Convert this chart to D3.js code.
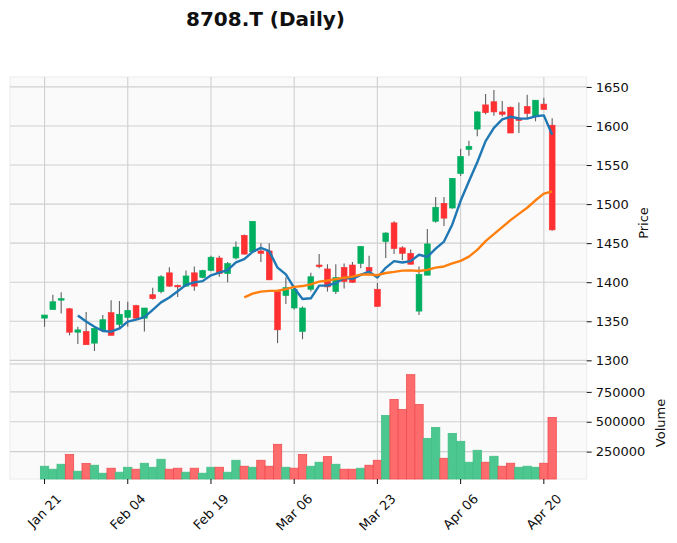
<!DOCTYPE html>
<html>
<head>
<meta charset="utf-8">
<script src="https://cdn.jsdelivr.net/npm/d3@7"></script>
<style>
body { margin: 0; background: #fff; }
text { font-family: "DejaVu Sans", sans-serif; fill: #101010; }
</style>
</head>
<body>
<script>
// trading days (2020), ticker 8708.T
var dates = ['2020-01-21','2020-01-22','2020-01-23','2020-01-24','2020-01-27','2020-01-28','2020-01-29','2020-01-30','2020-01-31','2020-02-03',
  '2020-02-04','2020-02-05','2020-02-06','2020-02-07','2020-02-10','2020-02-12','2020-02-13','2020-02-14','2020-02-17','2020-02-18',
  '2020-02-19','2020-02-20','2020-02-21','2020-02-25','2020-02-26','2020-02-27','2020-02-28','2020-03-02','2020-03-03','2020-03-04',
  '2020-03-06','2020-03-09','2020-03-10','2020-03-11','2020-03-12','2020-03-13','2020-03-16','2020-03-17','2020-03-18','2020-03-19',
  '2020-03-23','2020-03-24','2020-03-25','2020-03-26','2020-03-27','2020-03-30','2020-03-31','2020-04-01','2020-04-02','2020-04-03',
  '2020-04-06','2020-04-07','2020-04-08','2020-04-09','2020-04-10','2020-04-13','2020-04-14','2020-04-15','2020-04-16','2020-04-17',
  '2020-04-20','2020-04-21'];

var opens = [1354,1365,1377,1366,1336,1337,1322,1339,1361,1346,
  1355,1370,1354,1384,1388,1412,1396,1395,1412,1406,
  1415,1431,1411,1431,1460,1439,1440,1440,1388,1383,
  1367,1337,1391,1422,1417,1388,1419,1422,1424,1419,
  1391,1452,1476,1444,1437,1363,1409,1478,1501,1495,
  1539,1570,1596,1627,1631,1618,1624,1610,1625,1612,
  1628,1601];
var highs = [1358,1384,1387,1367,1343,1362,1342,1358,1377,1376,
  1375,1371,1367,1393,1409,1419,1397,1415,1420,1416,
  1434,1434,1426,1452,1461,1478,1450,1450,1389,1406,
  1393,1369,1412,1436,1423,1423,1424,1426,1446,1434,
  1399,1464,1478,1446,1442,1420,1468,1509,1509,1533,
  1571,1581,1619,1641,1646,1632,1625,1630,1640,1633,
  1636,1610];
var lows = [1343,1365,1360,1332,1321,1320,1312,1337,1332,1342,
  1343,1352,1337,1378,1386,1394,1381,1394,1389,1405,
  1414,1407,1400,1429,1435,1438,1426,1403,1322,1372,
  1365,1327,1388,1418,1388,1385,1392,1399,1418,1411,
  1369,1431,1436,1428,1423,1358,1409,1476,1472,1494,
  1536,1562,1587,1615,1613,1612,1591,1591,1610,1606,
  1621,1466];
var closes = [1358,1375,1379,1336,1339,1320,1341,1352,1332,1359,
  1364,1354,1367,1379,1407,1395,1394,1408,1395,1415,
  1432,1411,1424,1445,1436,1478,1437,1403,1339,1393,
  1391,1367,1407,1420,1394,1406,1401,1400,1446,1414,
  1369,1463,1443,1437,1423,1410,1449,1496,1482,1533,
  1561,1574,1618,1617,1618,1615,1591,1607,1616,1633,
  1621,1467];
var volumes = [127500,102500,144000,225000,86000,150000,136000,69000,111000,77500,
  119000,102500,152500,119000,186000,102500,111000,77500,111000,69000,
  119000,119000,77500,177500,127500,119000,177500,127500,311000,119000,
  111000,225000,127500,161000,208000,144000,102500,102500,111000,136000,
  177500,552500,686000,602500,894000,644000,361000,452500,194000,402500,
  336000,161000,261000,161000,211000,127500,152500,119000,127500,119000,
  152500,536000];

var mavPeriods = [5, 25];
var mavColors = ['#1f77b4', '#ff7f0e'];
var xTickIndex = [0, 10, 20, 30, 40, 50, 60];
var volTicks = [250000, 500000, 750000];

var upColor = '#00b060', downColor = '#fe3032', wickColor = '#606060';
var volUp = '#4dc790', volDown = '#fd6b6c';

var W = 677, H = 543;
var left = 10, right = 586.7;
var priceTop = 77, priceBottom = 364, volBottom = 479;

var svg = d3.select('body').append('svg')
  .attr('width', W)
  .attr('height', H);

var n = dates.length;
var x = d3.scaleLinear()
  .domain([-4.15, n - 1 + 4.15])
  .range([left, right]);
var step = x(1) - x(0);

var lo = d3.min(lows), hi = d3.max(highs), pad = (hi - lo) * 0.05;
var y = d3.scaleLinear()
  .domain([lo - pad, hi + pad])
  .range([priceBottom, priceTop]);

var yv = d3.scaleLinear()
  .domain([d3.min(volumes) * 0.3, d3.max(volumes) * 1.1])
  .range([volBottom, priceBottom]);

var parse = d3.timeParse('%Y-%m-%d');
var fmt = d3.timeFormat('%b %d');

// panel backgrounds
[[priceTop, priceBottom], [priceBottom, volBottom]].forEach(function(p) {
  svg.append('rect')
    .attr('x', left).attr('y', p[0])
    .attr('width', right - left).attr('height', p[1] - p[0])
    .attr('fill', '#fafafa')
    .attr('stroke', '#ececec')
    .attr('stroke-width', 1);
});

// grid
var grid = svg.append('g').attr('stroke', '#d0d0d0').attr('stroke-width', 1.1);
grid.selectAll('.hp').data(y.ticks(8)).enter().append('line')
  .attr('x1', left).attr('x2', right)
  .attr('y1', function(d) { return y(d); }).attr('y2', function(d) { return y(d); });
grid.selectAll('.hv').data(volTicks).enter().append('line')
  .attr('x1', left).attr('x2', right)
  .attr('y1', function(d) { return yv(d); }).attr('y2', function(d) { return yv(d); });
grid.selectAll('.vx').data(xTickIndex).enter().append('line')
  .attr('x1', function(d) { return x(d); }).attr('x2', function(d) { return x(d); })
  .attr('y1', priceTop).attr('y2', volBottom);
grid.append('line')
  .attr('x1', left).attr('x2', right)
  .attr('y1', priceBottom).attr('y2', priceBottom);

// volume bars, coloured by close vs previous close
var vUp = function(i) { return i === 0 || closes[i] >= closes[i - 1]; };
svg.append('g').selectAll('rect')
  .data(volumes)
  .enter()
    .append('rect')
    .attr('x', function(d, i) { return x(i) - step / 2; })
    .attr('width', step)
    .attr('y', function(d) { return yv(d); })
    .attr('height', function(d) { return volBottom - yv(d); })
    .attr('fill', function(d, i) { return vUp(i) ? volUp : volDown; })
    .attr('stroke', function(d, i) { return vUp(i) ? '#44bf86' : '#f24d50'; })
    .attr('stroke-width', 0.8);

// wicks
svg.append('g').selectAll('line')
  .data(closes)
  .enter()
    .append('line')
    .attr('x1', function(d, i) { return x(i); })
    .attr('x2', function(d, i) { return x(i); })
    .attr('y1', function(d, i) { return y(highs[i]); })
    .attr('y2', function(d, i) { return y(lows[i]); })
    .attr('stroke', wickColor)
    .attr('stroke-width', 1.1);

// bodies
var bw = step * 0.7;
svg.append('g').selectAll('rect')
  .data(closes)
  .enter()
    .append('rect')
    .attr('x', function(d, i) { return x(i) - bw / 2; })
    .attr('width', bw)
    .attr('y', function(d, i) { return y(Math.max(opens[i], d)); })
    .attr('height', function(d, i) { return Math.max(1, Math.abs(y(opens[i]) - y(d))); })
    .attr('fill', function(d, i) { return d >= opens[i] ? upColor : downColor; })
    .attr('stroke', function(d, i) { return d >= opens[i] ? upColor : downColor; })
    .attr('stroke-width', 0.6);

// moving averages of closes
mavPeriods.forEach(function(p, k) {
  var pts = [];
  for (var i = p - 1; i < n; i++) {
    pts.push([i, d3.mean(closes.slice(i - p + 1, i + 1))]);
  }
  svg.append('path')
    .datum(pts)
    .attr('fill', 'none')
    .attr('stroke', mavColors[k])
    .attr('stroke-width', 2.4)
    .attr('stroke-linejoin', 'round')
    .attr('d', d3.line().x(function(d) { return x(d[0]); }).y(function(d) { return y(d[1]); }));
});

// right axes
var priceAxis = svg.append('g')
  .attr('transform', 'translate(' + right + ',0)')
  .call(d3.axisRight(y).ticks(8).tickSize(5).tickPadding(4).tickFormat(d3.format('d')));
var volAxis = svg.append('g')
  .attr('transform', 'translate(' + right + ',0)')
  .call(d3.axisRight(yv).tickValues(volTicks).tickSize(5).tickPadding(4).tickFormat(d3.format('d')));
[priceAxis, volAxis].forEach(function(a) {
  a.select('.domain').remove();
  a.selectAll('line').attr('stroke', '#101010');
  a.selectAll('text').attr('font-size', 13).attr('font-family', 'DejaVu Sans').attr('fill', '#101010');
});

// x ticks + rotated labels
svg.append('g').selectAll('line')
  .data(xTickIndex)
  .enter()
    .append('line')
    .attr('x1', function(d) { return x(d); }).attr('x2', function(d) { return x(d); })
    .attr('y1', volBottom).attr('y2', volBottom + 5)
    .attr('stroke', '#101010');

var xl = svg.append('g').selectAll('text')
  .data(xTickIndex)
  .enter()
    .append('text')
    .attr('font-size', 13)
    .attr('text-anchor', 'middle')
    .attr('dominant-baseline', 'central')
    .text(function(d) { return fmt(parse(dates[d])); });
xl.attr('transform', function(d) {
  var w = this.getComputedTextLength();
  var cy = 491.5 + (w + 14) * 0.7071 / 2;
  return 'translate(' + x(d) + ',' + cy + ') rotate(-45)';
});

// axis labels
svg.append('text')
  .attr('transform', 'translate(643,223) rotate(-90)')
  .attr('text-anchor', 'middle')
  .attr('dominant-baseline', 'central')
  .attr('font-size', 13)
  .text('Price');
svg.append('text')
  .attr('transform', 'translate(660,423) rotate(-90)')
  .attr('text-anchor', 'middle')
  .attr('dominant-baseline', 'central')
  .attr('font-size', 13)
  .text('Volume');

// title
svg.append('text')
  .attr('x', 265.5)
  .attr('y', 26)
  .attr('text-anchor', 'middle')
  .attr('font-size', 20)
  .attr('font-weight', 'bold')
  .text('8708.T (Daily)');
</script>
</body>
</html>
